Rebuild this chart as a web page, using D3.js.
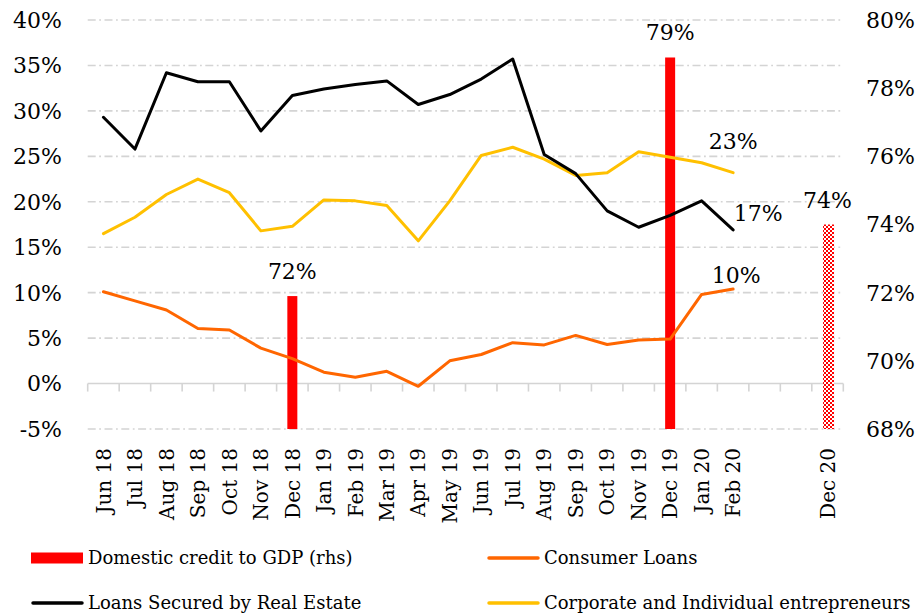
<!DOCTYPE html>
<html>
<head>
<meta charset="utf-8">
<script src="https://cdn.jsdelivr.net/npm/d3@7"></script>
<style>
  html, body { margin: 0; padding: 0; background: #fff; }
  svg { display: block; font-family: "DejaVu Serif", "Liberation Serif", serif; }
</style>
</head>
<body>
<svg id="chart" width="922" height="615"></svg>
<script>
// Category axis: monthly points, two empty slots, then the year-end projection
const categories = ["Jun 18","Jul 18","Aug 18","Sep 18","Oct 18","Nov 18","Dec 18",
  "Jan 19","Feb 19","Mar 19","Apr 19","May 19","Jun 19","Jul 19","Aug 19","Sep 19",
  "Oct 19","Nov 19","Dec 19","Jan 20","Feb 20","","","Dec 20"];

// Growth rates (left axis, %)
const realEstate = [29.3,25.8,34.2,33.2,33.2,27.8,31.7,32.4,32.9,33.3,30.7,31.8,
  33.5,35.7,25.2,23.1,19.0,17.2,18.5,20.1,16.9];
const consumer = [10.1,9.1,8.1,6.05,5.9,3.9,2.75,1.25,0.7,1.35,-0.3,2.5,
  3.2,4.5,4.25,5.3,4.3,4.8,4.9,9.8,10.4];
const corporate = [16.5,18.3,20.8,22.5,21.0,16.8,17.3,20.2,20.1,19.6,15.7,20.1,
  25.1,26.0,24.7,22.9,23.2,25.5,24.9,24.3,23.2];

// Domestic credit to GDP (right axis, %)
const creditCats = ["Dec 18","Dec 19","Dec 20"];
const creditValues = [71.9,78.9,74.0];
const creditProjected = [false,false,true];

const leftTicks = [-5,0,5,10,15,20,25,30,35,40];
const rightTicks = [68,70,72,74,76,78,80];

const svg = d3.select("#chart");
const plot = { left: 87.7, right: 843.3, top: 20, bottom: 429 };

const x = d3.scaleBand().domain(d3.range(categories.length))
  .range([plot.left, plot.right]).paddingInner(0).paddingOuter(0);
const yL = d3.scaleLinear().domain([-5, 40]).range([plot.bottom, plot.top]);
const yR = d3.scaleLinear().domain([68, 80]).range([plot.bottom, plot.top]);
const cx = i => x(i) + x.bandwidth() / 2;
const pct = d3.format(".0f");

// Checkered fill for the projected bar
const defs = svg.append("defs");
const pat = defs.append("pattern").attr("id", "checker")
  .attr("patternUnits", "userSpaceOnUse").attr("width", 4).attr("height", 4);
pat.append("rect").attr("width", 4).attr("height", 4).attr("fill", "#fff");
pat.append("rect").attr("width", 2).attr("height", 2).attr("fill", "#ff0000");
pat.append("rect").attr("x", 2).attr("y", 2).attr("width", 2).attr("height", 2).attr("fill", "#ff0000");

// Horizontal gridlines (dash-dot)
svg.append("g").selectAll("line").data(leftTicks.filter(t => t !== 0)).join("line")
  .attr("x1", plot.left).attr("x2", plot.right)
  .attr("y1", d => yL(d)).attr("y2", d => yL(d))
  .attr("stroke", "#d4d4d4").attr("stroke-width", 1.6)
  .attr("stroke-dasharray", "8,3.5,1.8,3.5");

// Category axis on the zero line, with boundary ticks
const axisG = svg.append("g");
axisG.append("line").attr("x1", plot.left).attr("x2", plot.right)
  .attr("y1", yL(0)).attr("y2", yL(0)).attr("stroke", "#d4d4d4").attr("stroke-width", 1.6);
axisG.selectAll("line.tick").data(d3.range(categories.length + 1)).join("line")
  .attr("class", "tick")
  .attr("x1", i => plot.left + i * x.step()).attr("x2", i => plot.left + i * x.step())
  .attr("y1", yL(0)).attr("y2", yL(0) + 8)
  .attr("stroke", "#d4d4d4").attr("stroke-width", 1.6);

// Category labels, rotated
svg.append("g").selectAll("text").data(d3.range(categories.length)).join("text")
  .attr("transform", i => `translate(${cx(i)},448) rotate(-90)`)
  .attr("text-anchor", "end").attr("dy", "0.36em")
  .attr("font-size", 20).attr("fill", "#000")
  .text(i => categories[i]);

// Left axis labels
svg.append("g").selectAll("text").data(leftTicks).join("text")
  .attr("x", 62).attr("y", d => yL(d)).attr("dy", "0.36em")
  .attr("text-anchor", "end").attr("font-size", 22).attr("fill", "#000")
  .text(d => d + "%");

// Right axis labels
svg.append("g").selectAll("text").data(rightTicks).join("text")
  .attr("x", 866).attr("y", d => yR(d)).attr("dy", "0.36em")
  .attr("text-anchor", "start").attr("font-size", 22).attr("fill", "#000")
  .text(d => d + "%");

// Credit-to-GDP bars
const barW = 10;
const bars = creditCats.map((c, k) => ({ i: categories.indexOf(c), v: creditValues[k], proj: creditProjected[k] }));
svg.append("g").selectAll("rect").data(bars).join("rect")
  .attr("x", d => cx(d.i) - barW / 2 + (d.proj ? 0.5 : 0))
  .attr("width", d => d.proj ? barW + 1 : barW)
  .attr("y", d => yR(d.v)).attr("height", d => yR(68) - yR(d.v))
  .attr("fill", d => d.proj ? "url(#checker)" : "#ff0000");

// Growth lines
const line = d3.line().x((d, i) => cx(i)).y(d => yL(d));
const series = [
  { values: consumer, color: "#ff6600" },
  { values: corporate, color: "#ffc000" },
  { values: realEstate, color: "#000000" }
];
svg.append("g").selectAll("path").data(series).join("path")
  .attr("d", d => line(d.values)).attr("fill", "none")
  .attr("stroke", d => d.color).attr("stroke-width", 3)
  .attr("stroke-linejoin", "round").attr("stroke-linecap", "round");

// Value labels
const labelG = svg.append("g").attr("font-size", 22).attr("fill", "#000").attr("text-anchor", "middle");
bars.forEach(d => {
  labelG.append("text").attr("x", cx(d.i)).attr("y", yR(d.v) - 17).text(pct(d.v) + "%");
});
const last = realEstate.length - 1;
labelG.append("text").attr("x", cx(last)).attr("y", yL(corporate[last]) - 24).text(pct(corporate[last]) + "%");
labelG.append("text").attr("x", cx(last) + 25).attr("y", yL(realEstate[last]) - 9).text(pct(realEstate[last]) + "%");
labelG.append("text").attr("x", cx(last) + 3).attr("y", yL(consumer[last]) - 6).text(pct(consumer[last]) + "%");

// Legend
const legend = [
  { label: "Domestic credit to GDP (rhs)", type: "rect", color: "#ff0000", x: 31, y: 558 },
  { label: "Consumer Loans", type: "line", color: "#ff6600", x: 487, y: 558 },
  { label: "Loans Secured by Real Estate", type: "line", color: "#000000", x: 31, y: 603 },
  { label: "Corporate and Individual entrepreneurs", type: "line", color: "#ffc000", x: 487, y: 603 }
];
const lg = svg.append("g").selectAll("g").data(legend).join("g")
  .attr("transform", d => `translate(${d.x},${d.y})`);
lg.filter(d => d.type === "rect").append("rect")
  .attr("x", 0).attr("y", -5.5).attr("width", 52).attr("height", 11).attr("fill", d => d.color);
lg.filter(d => d.type === "line").append("line")
  .attr("x1", 2).attr("x2", 51).attr("y1", 0).attr("y2", 0)
  .attr("stroke", d => d.color).attr("stroke-width", 3.5).attr("stroke-linecap", "round");
lg.append("text").attr("x", 57).attr("y", 0).attr("dy", "0.33em")
  .attr("font-size", 18).attr("fill", "#000").text(d => d.label);
</script>
</body>
</html>
